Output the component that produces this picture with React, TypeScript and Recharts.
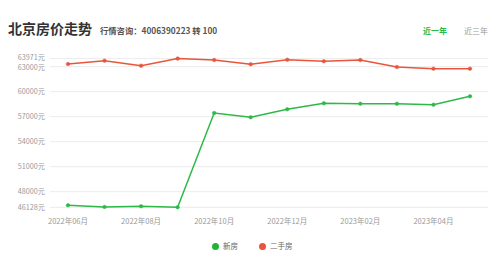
import { FC } from 'react';
import { LineChart, Line, XAxis, YAxis, CartesianGrid } from 'recharts';

const months = [
	'2022年06月',
	'2022年07月',
	'2022年08月',
	'2022年09月',
	'2022年10月',
	'2022年11月',
	'2022年12月',
	'2023年01月',
	'2023年02月',
	'2023年03月',
	'2023年04月',
	'2023年05月',
];

const newHomes = [
	46370, 46170, 46250, 46128, 57444, 56928, 57888, 58608, 58560, 58560, 58440,
	59448,
];

const resale = [
	63324, 63720, 63120, 63971, 63800, 63290, 63840, 63650, 63800, 62960, 62760,
	62760,
];

const yTicks = [46128, 48000, 51000, 54000, 57000, 60000, 63000, 63971];

const GREEN = '#2cb947';
const RED = '#e8553b';
const FONT = '"Noto Sans CJK SC", "Noto Sans", sans-serif';

const data = months.map((month, i) => ({
	month,
	newHomes: newHomes[i],
	resale: resale[i],
}));

// top two labels sit very close, nudge them apart a little
const YTick: FC<any> = ({ x, y, payload }) => {
	let shift = 0;
	if (payload.value === 63971) shift = -1;
	if (payload.value === 63000) shift = 0.5;
	return (
		<text
			x={x}
			y={y + shift}
			dy="0.355em"
			textAnchor="end"
			fontSize={7.2}
			fill="#999"
			fontFamily={FONT}>
			{`${payload.value}元`}
		</text>
	);
};

const App: FC = () => {
	return (
		<div
			style={{
				position: 'absolute',
				left: 0,
				top: 0,
				width: 498,
				height: 257,
				background: '#fff',
				fontFamily: FONT,
			}}>
			<div
				style={{
					position: 'absolute',
					left: 8,
					top: 18,
					fontSize: 14,
					fontWeight: 700,
					color: '#333',
					lineHeight: '20px',
				}}>
				北京房价走势
			</div>
			<div
				style={{
					position: 'absolute',
					left: 100,
					top: 24,
					fontSize: 8.3,
					fontWeight: 700,
					color: '#555',
					lineHeight: '12px',
				}}>
				行情咨询：4006390223 转 100
			</div>
			<div
				style={{
					position: 'absolute',
					left: 423,
					top: 25,
					fontSize: 8,
					fontWeight: 700,
					color: GREEN,
					lineHeight: '12px',
				}}>
				近一年
			</div>
			<div
				style={{
					position: 'absolute',
					left: 464,
					top: 25,
					fontSize: 8,
					color: '#999',
					lineHeight: '12px',
				}}>
				近三年
			</div>

			<LineChart
				width={498}
				height={257}
				data={data}
				margin={{ top: 58.6, right: 10, left: 0, bottom: 0 }}>
				<CartesianGrid vertical={false} stroke="#ececec" />
				<XAxis
					dataKey="month"
					height={49.7}
					axisLine={false}
					tickLine={false}
					tickSize={0}
					tickMargin={11}
					interval={1}
					padding={{ left: 18, right: 18 }}
					tick={{ fontSize: 7.5, fill: '#999', fontFamily: FONT }}
				/>
				<YAxis
					width={50}
					domain={[46128, 63971]}
					ticks={yTicks}
					interval={0}
					axisLine={false}
					tickLine={false}
					tickSize={0}
					tickMargin={5}
					tick={<YTick />}
				/>
				<Line
					type="linear"
					dataKey="newHomes"
					name="新房"
					stroke={GREEN}
					strokeWidth={1.5}
					dot={{ r: 1.8, fill: GREEN, stroke: GREEN, strokeWidth: 0.5 }}
					isAnimationActive={false}
				/>
				<Line
					type="linear"
					dataKey="resale"
					name="二手房"
					stroke={RED}
					strokeWidth={1.5}
					dot={{ r: 1.8, fill: RED, stroke: RED, strokeWidth: 0.5 }}
					isAnimationActive={false}
				/>
			</LineChart>

			<div
				style={{
					position: 'absolute',
					left: 212,
					top: 240,
					display: 'flex',
					alignItems: 'center',
					fontSize: 7.5,
					color: '#666',
					lineHeight: '12px',
				}}>
				<span
					style={{
						width: 7,
						height: 7,
						borderRadius: '50%',
						background: '#1fb533',
						marginRight: 4,
					}}
				/>
				<span style={{ marginRight: 21 }}>新房</span>
				<span
					style={{
						width: 7,
						height: 7,
						borderRadius: '50%',
						background: RED,
						marginRight: 4,
					}}
				/>
				<span>二手房</span>
			</div>
		</div>
	);
};

export default App;
